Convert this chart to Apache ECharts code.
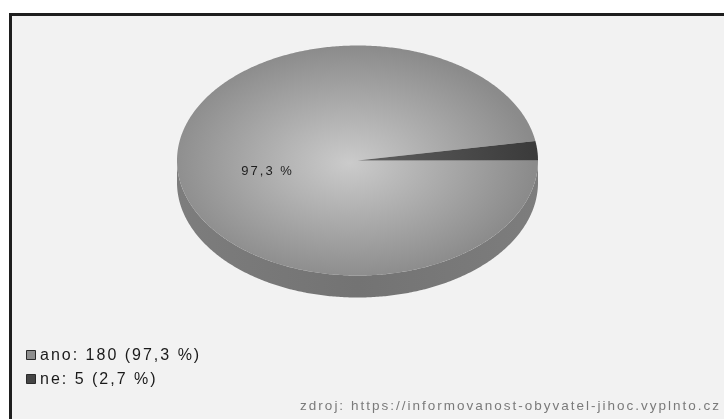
<!DOCTYPE html>
<html>
<head>
<meta charset="utf-8">
<script src="https://cdn.jsdelivr.net/npm/echarts@6/dist/echarts.min.js"></script>
<style>
  html, body { margin: 0; padding: 0; background: #ffffff; }
  #chart { width: 724px; height: 419px; }
</style>
</head>
<body>
<div id="chart"></div>
<script>
// Survey answers
const categories = ['ano', 'ne'];
const counts = [180, 5];
const sourceNote = 'zdroj: https://informovanost-obyvatel-jihoc.vyplnto.cz';

// Shading per slice: top face [centre, rim], wall, legend swatch
const topShades = [['#cbcbcb', '#8b8b8b'], ['#626262', '#3b3b3b']];
const sideShades = [['#7d7d7d', '#737373'], ['#444444', '#3a3a3a']];
const legendFill = ['#8e8e8e', '#454545'];

// Tilted pie geometry
const CX = 357.5, CY = 160.5, RX = 180.5, RY = 115, DEPTH = 22;
const FONT = '"Liberation Sans", Arial, sans-serif';

const total = counts.reduce((s, v) => s + v, 0);
const pctText = v => (v / total * 100).toFixed(1).replace('.', ',') + ' %';

// points along the screen-space rim of the ellipse, optionally shifted down
function rim(from, to, dy) {
  const n = Math.max(2, Math.ceil(Math.abs(to - from) / 0.01));
  const pts = [];
  for (let j = 0; j <= n; j++) {
    const t = from + (to - from) * j / n;
    pts.push([CX + RX * Math.cos(t), CY + dy - RY * Math.sin(t)]);
  }
  return pts;
}

function renderItem(params, api) {
  const i = params.dataIndex;
  let before = 0;
  for (let k = 0; k < i; k++) before += counts[k];
  const v = api.value(0);
  // slices run clockwise from three o'clock
  const a0 = -before / total * 2 * Math.PI;
  const a1 = -(before + v) / total * 2 * Math.PI;
  const children = [];

  // visible wall: the part of the slice on the front half of the disc
  [[-Math.PI, 0], [-3 * Math.PI, -2 * Math.PI]].forEach(([lo, hi]) => {
    const s = Math.max(a1, lo), e = Math.min(a0, hi);
    if (e - s > 1e-4) {
      const pts = rim(s, e, 0).concat(rim(s, e, DEPTH).reverse());
      children.push({
        type: 'polygon',
        z2: 1,
        shape: { points: pts },
        style: {
          fill: {
            type: 'linear', global: true,
            x: CX - RX, y: 0, x2: CX + RX, y2: 0,
            colorStops: [
              { offset: 0, color: sideShades[i][0] },
              { offset: 0.5, color: sideShades[i][1] },
              { offset: 1, color: sideShades[i][0] }
            ]
          }
        }
      });
    }
  });

  // top face drawn as a circular sector, squashed vertically
  const n = Math.max(2, Math.ceil(Math.abs(a0 - a1) / 0.01));
  const face = [[CX, CY]];
  for (let j = 0; j <= n; j++) {
    const t = a0 + (a1 - a0) * j / n;
    face.push([CX + RX * Math.cos(t), CY - RX * Math.sin(t)]);
  }
  children.push({
    type: 'polygon',
    z2: 2,
    originX: CX,
    originY: CY,
    scaleY: RY / RX,
    shape: { points: face },
    style: {
      fill: {
        type: 'radial', global: true,
        x: CX - 8, y: CY + 4, r: RX * 1.02,
        colorStops: [
          { offset: 0, color: topShades[i][0] },
          { offset: 1, color: topShades[i][1] }
        ]
      }
    }
  });

  // percentage label inside larger slices
  if (v / total > 0.05) {
    const mid = (a0 + a1) / 2;
    children.push({
      type: 'text',
      z2: 5,
      style: {
        text: pctText(v),
        x: CX + RX * 0.5 * Math.cos(mid),
        y: CY - RY * 0.5 * Math.sin(mid),
        align: 'center',
        verticalAlign: 'top',
        font: '13px ' + FONT,
        fill: '#1e1e1e'
      }
    });
  }
  return { type: 'group', children: children };
}

// frame, legend rows and source note
const graphics = [{
  type: 'rect',
  z: 0,
  shape: { x: 10.5, y: 14.5, width: 760, height: 440 },
  style: { fill: '#f2f2f2', stroke: '#1e1e1e', lineWidth: 3 }
}];
categories.forEach((name, i) => {
  const y = 355 + i * 24;
  graphics.push({
    type: 'rect',
    z: 10,
    shape: { x: 26.5, y: y - 4.5, width: 9, height: 9 },
    style: { fill: legendFill[i], stroke: '#2a2a2a', lineWidth: 1 }
  });
  graphics.push({
    type: 'text',
    z: 10,
    x: 40,
    y: y + 1,
    style: {
      text: name + ': ' + counts[i] + ' (' + pctText(counts[i]) + ')',
      font: '16px ' + FONT,
      fill: '#1a1a1a',
      align: 'left',
      verticalAlign: 'middle'
    }
  });
});
graphics.push({
  type: 'text',
  z: 10,
  x: 721,
  y: 406,
  style: {
    text: sourceNote,
    font: '13.5px ' + FONT,
    fill: '#7a7a7a',
    align: 'right',
    verticalAlign: 'middle'
  }
});

const chart = echarts.init(document.getElementById('chart'), null, { renderer: 'canvas' });
chart.setOption({
  animation: false,
  backgroundColor: '#ffffff',
  graphic: { elements: graphics },
  series: [{
    type: 'custom',
    coordinateSystem: 'none',
    z: 5,
    data: categories.map((name, i) => ({ name: name, value: [counts[i]] })),
    renderItem: renderItem
  }]
});

// the chart's typeface is set with loose tracking; repaint once it is applied
const canvas = chart.getDom().querySelector('canvas');
if (canvas) {
  const ctx = canvas.getContext('2d');
  if ('letterSpacing' in ctx) {
    ctx.letterSpacing = '2px';
    const painter = chart.getZr().painter;
    if (painter && painter.refresh) painter.refresh(true);
  }
}
</script>
</body>
</html>
